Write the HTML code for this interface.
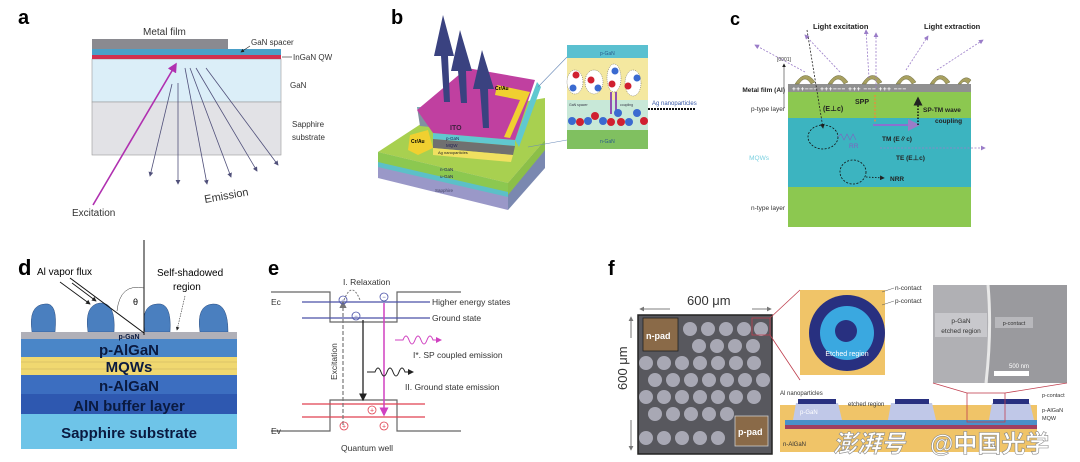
<!DOCTYPE html>
<html><head><meta charset="utf-8"><style>
html,body{margin:0;padding:0;background:#fff;}
svg{display:block;font-family:"Liberation Sans","Noto Sans CJK SC",sans-serif;}
</style></head><body>
<svg width="1080" height="462" viewBox="0 0 1080 462" xmlns="http://www.w3.org/2000/svg">
<defs>
<marker id="ab" markerWidth="6" markerHeight="6" refX="5" refY="3" orient="auto"><path d="M0,0 L6,3 L0,6 z" fill="#50507a"/></marker>
<marker id="am" markerWidth="6" markerHeight="6" refX="5" refY="3" orient="auto"><path d="M0,0 L6,3 L0,6 z" fill="#b030b0"/></marker>
<marker id="ak" markerWidth="6" markerHeight="6" refX="5" refY="3" orient="auto"><path d="M0,0 L6,3 L0,6 z" fill="#222"/></marker>
<marker id="ap" markerWidth="6" markerHeight="6" refX="5" refY="3" orient="auto"><path d="M0,0 L6,3 L0,6 z" fill="#9a7cc8"/></marker>
<marker id="ag" markerWidth="6" markerHeight="6" refX="5" refY="3" orient="auto"><path d="M0,0 L6,3 L0,6 z" fill="#777"/></marker>
<marker id="apk" markerWidth="6" markerHeight="6" refX="5" refY="3" orient="auto"><path d="M0,0 L6,3 L0,6 z" fill="#d040c0"/></marker>
</defs>

<!-- Panel a -->
<text x="18" y="24" font-size="20" font-weight="bold">a</text>
<text x="143" y="35" font-size="10" fill="#333">Metal film</text>
<rect x="92" y="59" width="189" height="43" fill="#dbeef8" stroke="#999" stroke-width="0.6"/>
<rect x="92" y="102" width="189" height="53" fill="#e2e2e6" stroke="#999" stroke-width="0.6"/>
<rect x="92" y="39" width="136" height="10" fill="#8a8a90"/>
<rect x="92" y="49" width="189" height="6" fill="#4a9fc8"/>
<rect x="92" y="55" width="189" height="4" fill="#d03050"/>
<text x="251" y="45" font-size="8" fill="#333">GaN spacer</text>
<line x1="250" y1="46" x2="241" y2="52" stroke="#222" stroke-width="0.6" marker-end="url(#ak)"/>
<text x="293" y="60" font-size="8" fill="#333">InGaN QW</text>
<line x1="292" y1="57" x2="282" y2="57" stroke="#222" stroke-width="0.6"/>
<text x="290" y="88" font-size="8" fill="#333">GaN</text>
<text x="292" y="127" font-size="8" fill="#333">Sapphire</text>
<text x="292" y="140" font-size="8" fill="#333">substrate</text>
<line x1="93" y1="205" x2="176" y2="64" stroke="#b030b0" stroke-width="1.6" marker-end="url(#am)"/>
<g stroke="#50507a" stroke-width="0.8">
<line x1="172" y1="84" x2="150" y2="176" marker-end="url(#ab)"/>
<line x1="178" y1="83" x2="178" y2="184" marker-end="url(#ab)"/>
<line x1="185" y1="68" x2="207" y2="184" marker-end="url(#ab)"/>
<line x1="190" y1="68" x2="231" y2="177" marker-end="url(#ab)"/>
<line x1="196" y1="68" x2="257" y2="171" marker-end="url(#ab)"/>
<line x1="206" y1="68" x2="278" y2="165" marker-end="url(#ab)"/>
</g>
<text x="205" y="203" font-size="11" fill="#333" transform="rotate(-10 205 203)">Emission</text>
<text x="72" y="216" font-size="10" fill="#333">Excitation</text>

<!-- Panel b -->
<text x="391" y="24" font-size="20" font-weight="bold">b</text>
<polygon points="378,152 508,183 508,210 378,178" fill="#9a98c8"/>
<polygon points="378,152 508,183 508,196 378,166" fill="#8cc850"/>
<polygon points="378,162 508,192 508,197 378,167" fill="#5cc0c8"/>
<polygon points="508,183 545,140 545,168 508,210" fill="#7a88b0"/>
<polygon points="508,183 545,140 545,150 508,195" fill="#8cbf48"/>
<polygon points="378,152 430,118 545,98 545,140 508,183" fill="#a8d050"/>
<polygon points="433,133 515,140 515,146 433,139" fill="#60c8d0"/>
<polygon points="433,139 515,146 513,155 433,148" fill="#707070"/>
<polygon points="433,148 513,155 511,162 433,155" fill="#f0e060"/>
<polygon points="515,140 537,82 541,87 519,147" fill="#60c8d0"/>
<polygon points="417,107 438,108 440,128 420,126" fill="#8090a0"/>
<path d="M417,107 Q432,112 433,128" fill="#60c8d0"/>
<polygon points="417,110 467,68 535,80 515,140 433,133" fill="#c040a0"/>
<polygon points="497,85 530,92 510,138 504,137 520,100 495,95" fill="#f0d030"/>
<polygon points="410,135 428,130 433,148 418,155 408,150" fill="#f0d030"/>
<text x="495" y="90" font-size="5" font-weight="bold">Cr/Au</text>
<text x="411" y="143" font-size="5" font-weight="bold">Cr/Au</text>
<text x="450" y="130" font-size="7" font-weight="bold" fill="#402040">ITO</text>
<text x="446" y="140" font-size="4.5" fill="#225">p-GaN</text>
<text x="446" y="147" font-size="4.5" fill="#225">MQW</text>
<text x="438" y="154" font-size="4" fill="#222">Ag nanoparticles</text>
<text x="440" y="171" font-size="4.5" fill="#225">n-GaN</text>
<text x="440" y="178" font-size="4.5" fill="#225">u-GaN</text>
<text x="435" y="192" font-size="4.5" fill="#446">Sapphire</text>
<g fill="#3a4280">
<polygon points="443,15 434,56 441,56 444,102 450,102 448,56 454,56"/>
<polygon points="460,30 451,71 458,71 461,103 467,103 466,71 472,71"/>
<polygon points="482,50 473,89 480,89 483,128 489,128 488,89 494,89"/>
</g>
<line x1="538" y1="87" x2="567" y2="57" stroke="#6a8ab8" stroke-width="0.6"/>
<line x1="528" y1="147" x2="567" y2="140" stroke="#6a8ab8" stroke-width="0.6"/>
<rect x="567" y="45" width="81" height="104" fill="#f4e8a0"/>
<rect x="567" y="45" width="81" height="13" fill="#5ac0d0"/>
<rect x="567" y="100" width="81" height="30" fill="#c8e8d8"/>
<rect x="567" y="130" width="81" height="19" fill="#80c060"/>
<text x="600" y="55" font-size="5" fill="#2a5a8a">p-GaN</text>
<text x="600" y="143" font-size="5" fill="#2a5a8a">n-GaN</text>
<g stroke="#333" stroke-width="0.4" stroke-dasharray="1,1" fill="#fff">
<ellipse cx="575" cy="82" rx="8" ry="12"/><ellipse cx="594" cy="82" rx="9" ry="12"/><ellipse cx="614" cy="78" rx="7" ry="14"/><ellipse cx="633" cy="83" rx="8" ry="13"/>
</g>
<g fill="#d02030"><circle cx="576" cy="75" r="3.5"/><circle cx="591" cy="80" r="3.5"/><circle cx="612" cy="84" r="3.5"/><circle cx="628" cy="86" r="3.5"/></g>
<g fill="#3a6ad0"><circle cx="573" cy="88" r="3.5"/><circle cx="598" cy="88" r="3.5"/><circle cx="615" cy="71" r="3.5"/><circle cx="637" cy="78" r="3.5"/></g>
<rect x="610" y="92" width="2" height="22" fill="#9050b0"/><rect x="615" y="92" width="2" height="22" fill="#9050b0"/>
<g fill="#3a6ad0"><circle cx="572" cy="121" r="4"/><circle cx="588" cy="121" r="4"/><circle cx="603" cy="121" r="4"/><circle cx="618" cy="113" r="4"/><circle cx="637" cy="113" r="4"/><circle cx="629" cy="122" r="4"/></g>
<g fill="#d02030"><circle cx="580" cy="122" r="4"/><circle cx="595" cy="116" r="4"/><circle cx="611" cy="122" r="4"/><circle cx="621" cy="122" r="4"/><circle cx="644" cy="121" r="4"/></g>
<text x="569" y="106" font-size="3.5" fill="#334">GaN spacer</text>
<text x="620" y="106" font-size="3.5" fill="#334">coupling</text>
<text x="652" y="105" font-size="6" fill="#3a5aa8">Ag nanoparticles</text>
<line x1="648" y1="109" x2="695" y2="109" stroke="#111" stroke-width="2" stroke-dasharray="2,1"/>

<!-- Panel c -->
<text x="730" y="25" font-size="18" font-weight="bold">c</text>
<rect x="788" y="92" width="183" height="26" fill="#8cc850"/>
<rect x="788" y="118" width="183" height="69" fill="#3cb4c0"/>
<rect x="788" y="187" width="183" height="40" fill="#8cc850"/>
<rect x="788" y="84" width="183" height="8" fill="#909090"/>
<g fill="#a8a060" stroke="#6a6a40" stroke-width="0.5">
<path d="M795,84 Q805,68 815,82 L811,84 Q805,74 799,84 z"/>
<path d="M828,84 Q838,68 848,82 L844,84 Q838,74 832,84 z"/>
<path d="M862,84 Q872,68 882,82 L878,84 Q872,74 866,84 z"/>
<path d="M896,84 Q906,68 916,82 L912,84 Q906,74 900,84 z"/>
<path d="M930,84 Q940,68 950,82 L946,84 Q940,74 934,84 z"/>
<path d="M958,84 Q965,74 971,80 L968,84 Q964,79 961,84 z"/>
</g>
<text x="792" y="91" font-size="6.5" font-weight="bold" fill="#fff" letter-spacing="0.5">+++−−− +++−−− +++ −−− +++ −−−</text>
<text x="785" y="92" font-size="6.5" font-weight="bold" text-anchor="end" fill="#222">Metal film (Al)</text>
<text x="785" y="111" font-size="6.5" text-anchor="end" fill="#333">p-type layer</text>
<text x="769" y="160" font-size="6.5" text-anchor="end" fill="#7ad0e0">MQWs</text>
<text x="785" y="210" font-size="6.5" text-anchor="end" fill="#333">n-type layer</text>
<line x1="784" y1="108" x2="784" y2="64" stroke="#333" stroke-width="0.6" marker-end="url(#ak)"/>
<text x="777" y="61" font-size="5" fill="#333">[0001]</text>
<text x="813" y="29" font-size="7.5" font-weight="bold" fill="#222">Light excitation</text>
<text x="924" y="29" font-size="7.5" font-weight="bold" fill="#222">Light extraction</text>
<g stroke="#9a7cc8" stroke-width="0.8" stroke-dasharray="2,1.5" fill="none">
<line x1="805" y1="72" x2="755" y2="45" marker-end="url(#ap)"/>
<line x1="840" y1="72" x2="805" y2="35" marker-end="url(#ap)"/>
<line x1="869" y1="78" x2="866" y2="30" marker-end="url(#ap)"/>
<line x1="876" y1="88" x2="876" y2="33" marker-end="url(#ap)"/>
<line x1="906" y1="70" x2="928" y2="36" marker-end="url(#ap)"/>
<line x1="937" y1="70" x2="983" y2="40" marker-end="url(#ap)"/>
<line x1="880" y1="148" x2="985" y2="148" marker-end="url(#ap)"/>
</g>
<line x1="807" y1="30" x2="823" y2="128" stroke="#222" stroke-width="0.8" stroke-dasharray="2,1.5" marker-end="url(#ak)"/>
<line x1="875" y1="95" x2="875" y2="122" stroke="#e09040" stroke-width="1.5" stroke-dasharray="2,1.5"/>
<line x1="873" y1="125" x2="918" y2="125" stroke="#8a70d0" stroke-width="2" marker-end="url(#ap)"/>
<line x1="918" y1="125" x2="918" y2="98" stroke="#111" stroke-width="1.5" stroke-dasharray="1.5,1.5" marker-end="url(#ak)"/>
<text x="823" y="111" font-size="7" font-weight="bold" fill="#222">(E⊥c)</text>
<text x="855" y="104" font-size="7" font-weight="bold" fill="#222">SPP</text>
<text x="923" y="112" font-size="6.5" font-weight="bold" fill="#222">SP-TM wave</text>
<text x="935" y="123" font-size="6.5" font-weight="bold" fill="#222">coupling</text>
<text x="882" y="141" font-size="6.5" font-weight="bold" fill="#222">TM (E∥c)</text>
<text x="896" y="160" font-size="6.5" font-weight="bold" fill="#222">TE (E⊥c)</text>
<text x="849" y="148" font-size="6.5" fill="#8060c0">RR</text>
<text x="890" y="181" font-size="6.5" font-weight="bold" fill="#222">NRR</text>
<g fill="none" stroke="#111" stroke-width="0.8" stroke-dasharray="2,1.5">
<ellipse cx="823" cy="137" rx="15" ry="12"/><ellipse cx="853" cy="172" rx="13" ry="12"/>
</g>
<path d="M838,137 l3,-3 l3,6 l3,-6 l3,6 l3,-6 l3,6" fill="none" stroke="#8060c0" stroke-width="0.6"/>
<line x1="866" y1="177" x2="884" y2="178" stroke="#111" stroke-width="0.8" stroke-dasharray="1.5,1.5" marker-end="url(#ak)"/>

<!-- Panel d -->
<text x="18" y="275" font-size="22" font-weight="bold">d</text>
<g fill="#4a7fbf" stroke="#2d4e80" stroke-width="0.5">
<path d="M32,332 Q28,305 45,304 Q58,302 55,332 z"/>
<path d="M88,332 Q84,305 100,303 Q116,302 114,332 z"/>
<path d="M145,332 Q140,305 157,304 Q172,302 170,332 z"/>
<path d="M200,332 Q196,305 213,304 Q228,303 228,332 z"/>
</g>
<rect x="21" y="332" width="216" height="7" fill="#b0b0b8"/>
<rect x="21" y="339" width="216" height="18" fill="#4a86c8"/>
<rect x="21" y="357" width="216" height="18" fill="#f0d870"/>
<line x1="21" y1="362" x2="237" y2="362" stroke="#c8b060" stroke-width="0.5"/>
<line x1="21" y1="369" x2="237" y2="369" stroke="#c8b060" stroke-width="0.5"/>
<rect x="21" y="375" width="216" height="19" fill="#3c6ec0"/>
<rect x="21" y="394" width="216" height="20" fill="#2e58b0"/>
<rect x="21" y="414" width="216" height="35" fill="#6ec4e8"/>
<g font-weight="bold" fill="#0a1a40" text-anchor="middle">
<text x="129" y="339" font-size="7">p-GaN</text>
<text x="129" y="355" font-size="15">p-AlGaN</text>
<text x="129" y="372" font-size="15">MQWs</text>
<text x="129" y="391" font-size="15">n-AlGaN</text>
<text x="129" y="411" font-size="15">AlN buffer layer</text>
<text x="129" y="438" font-size="15">Sapphire substrate</text>
</g>
<line x1="144" y1="240" x2="144" y2="335" stroke="#111" stroke-width="1"/>
<line x1="70" y1="278" x2="144" y2="333" stroke="#111" stroke-width="1"/>
<line x1="72" y1="283" x2="96" y2="301" stroke="#111" stroke-width="0.8" marker-end="url(#ak)"/>
<line x1="60" y1="282" x2="90" y2="304" stroke="#111" stroke-width="0.8" marker-end="url(#ak)"/>
<path d="M117,311 Q120,283 144,288" fill="none" stroke="#333" stroke-width="0.5"/>
<text x="133" y="305" font-size="9">θ</text>
<text x="37" y="275" font-size="10">Al vapor flux</text>
<text x="157" y="276" font-size="10">Self-shadowed</text>
<text x="173" y="290" font-size="10">region</text>
<line x1="185" y1="296" x2="177" y2="330" stroke="#333" stroke-width="0.6" stroke-dasharray="1.5,1" marker-end="url(#ak)"/>

<!-- Panel e -->
<text x="268" y="275" font-size="20" font-weight="bold">e</text>
<path d="M271,292 H330 V322 H397 V292 H461" fill="none" stroke="#666" stroke-width="1.2"/>
<path d="M271,431 H330 V400 H397 V431 H461" fill="none" stroke="#666" stroke-width="1.2"/>
<line x1="302" y1="302" x2="430" y2="302" stroke="#4a52a8" stroke-width="1.2"/>
<line x1="302" y1="318" x2="430" y2="318" stroke="#4a52a8" stroke-width="1.2"/>
<line x1="302" y1="404" x2="425" y2="404" stroke="#e04050" stroke-width="1.2"/>
<line x1="302" y1="417" x2="425" y2="417" stroke="#e04050" stroke-width="1.2"/>
<text x="271" y="305" font-size="8.5" fill="#333">Ec</text>
<text x="271" y="434" font-size="8.5" fill="#333">Ev</text>
<text x="432" y="305" font-size="8.5" fill="#333">Higher energy states</text>
<text x="432" y="321" font-size="8.5" fill="#333">Ground state</text>
<text x="343" y="285" font-size="8.5" fill="#333">I. Relaxation</text>
<text x="413" y="358" font-size="8.5" fill="#333">I*. SP coupled emission</text>
<text x="405" y="390" font-size="8.5" fill="#333">II. Ground state emission</text>
<text x="341" y="451" font-size="8.5" fill="#333">Quantum well</text>
<text x="337" y="380" font-size="8.5" fill="#333" transform="rotate(-90 337 380)">Excitation</text>
<line x1="343" y1="425" x2="343" y2="302" stroke="#777" stroke-width="1.2" stroke-dasharray="4,2" marker-end="url(#ag)"/>
<line x1="363" y1="320" x2="363" y2="400" stroke="#222" stroke-width="1.3" marker-end="url(#ak)"/>
<line x1="384" y1="303" x2="384" y2="415" stroke="#d040c0" stroke-width="1.5" marker-end="url(#apk)"/>
<path d="M344,300 Q352,280 360,300" fill="none" stroke="#777" stroke-width="1" stroke-dasharray="2,1.5"/>
<g fill="none" stroke="#4a52a8" stroke-width="0.8"><circle cx="343" cy="300" r="4"/><circle cx="356" cy="316" r="4"/><circle cx="384" cy="297" r="4"/></g>
<g font-size="6" fill="#4a52a8" text-anchor="middle"><text x="343" y="302">−</text><text x="356" y="318">−</text><text x="384" y="299">−</text></g>
<g fill="none" stroke="#e04050" stroke-width="0.8"><circle cx="372" cy="410" r="4"/><circle cx="344" cy="426" r="4"/><circle cx="384" cy="426" r="4"/></g>
<g font-size="7" fill="#e04050" text-anchor="middle"><text x="372" y="412.5">+</text><text x="344" y="428.5">+</text><text x="384" y="428.5">+</text></g>
<path d="M395,340 h8 q3,-8 6,0 q3,8 6,0 q3,-8 6,0 q3,8 6,0 q3,-8 6,0 h8" fill="none" stroke="#d040c0" stroke-width="1" marker-end="url(#apk)"/>
<path d="M367,372 h8 q3,-8 6,0 q3,8 6,0 q3,-8 6,0 q3,8 6,0 q3,-8 6,0 h8" fill="none" stroke="#222" stroke-width="1" marker-end="url(#ak)"/>

<!-- Panel f -->
<text x="608" y="275" font-size="20" font-weight="bold">f</text>
<text x="687" y="305" font-size="13" fill="#333">600 μm</text>
<line x1="670" y1="309" x2="640" y2="309" stroke="#555" stroke-width="0.8" marker-end="url(#ag)"/>
<line x1="752" y1="309" x2="771" y2="309" stroke="#555" stroke-width="0.8" marker-end="url(#ag)"/>
<text x="627" y="390" font-size="13" fill="#333" transform="rotate(-90 627 390)">600 μm</text>
<line x1="631" y1="338" x2="631" y2="317" stroke="#555" stroke-width="0.8" marker-end="url(#ag)"/>
<line x1="631" y1="420" x2="631" y2="450" stroke="#555" stroke-width="0.8" marker-end="url(#ag)"/>
<rect x="638" y="315" width="134" height="139" fill="#58585e" stroke="#222" stroke-width="1.5"/>
<g fill="#a8a8b4">
<circle cx="690" cy="329" r="7"/><circle cx="708" cy="329" r="7"/><circle cx="726" cy="329" r="7"/><circle cx="744" cy="329" r="7"/><circle cx="761" cy="329" r="7"/>
<circle cx="699" cy="346" r="7"/><circle cx="717" cy="346" r="7"/><circle cx="735" cy="346" r="7"/><circle cx="753" cy="346" r="7"/>
<circle cx="646" cy="363" r="7"/><circle cx="664" cy="363" r="7"/><circle cx="682" cy="363" r="7"/><circle cx="700" cy="363" r="7"/><circle cx="718" cy="363" r="7"/><circle cx="736" cy="363" r="7"/><circle cx="754" cy="363" r="7"/>
<circle cx="655" cy="380" r="7"/><circle cx="673" cy="380" r="7"/><circle cx="691" cy="380" r="7"/><circle cx="709" cy="380" r="7"/><circle cx="727" cy="380" r="7"/><circle cx="745" cy="380" r="7"/><circle cx="763" cy="380" r="7"/>
<circle cx="646" cy="397" r="7"/><circle cx="664" cy="397" r="7"/><circle cx="682" cy="397" r="7"/><circle cx="700" cy="397" r="7"/><circle cx="718" cy="397" r="7"/><circle cx="736" cy="397" r="7"/><circle cx="754" cy="397" r="7"/>
<circle cx="655" cy="414" r="7"/><circle cx="673" cy="414" r="7"/><circle cx="691" cy="414" r="7"/><circle cx="709" cy="414" r="7"/><circle cx="727" cy="414" r="7"/>
<circle cx="646" cy="438" r="7"/><circle cx="664" cy="438" r="7"/><circle cx="682" cy="438" r="7"/><circle cx="700" cy="438" r="7"/><circle cx="718" cy="438" r="7"/>
</g>
<rect x="643" y="318" width="35" height="33" fill="#8a6a48" stroke="#222" stroke-width="0.8"/>
<text x="646" y="339" font-size="9" font-weight="bold" fill="#fff">n-pad</text>
<rect x="735" y="416" width="33" height="30" fill="#8a6a48" stroke="#ccc" stroke-width="0.8"/>
<text x="738" y="435" font-size="9" font-weight="bold" fill="#fff">p-pad</text>
<rect x="752" y="318" width="18" height="17" fill="none" stroke="#c04050" stroke-width="0.8"/>
<line x1="770" y1="318" x2="800" y2="290" stroke="#c04050" stroke-width="0.8"/>
<line x1="770" y1="335" x2="800" y2="380" stroke="#c04050" stroke-width="0.8"/>
<rect x="800" y="290" width="85" height="85" fill="#f0c468"/>
<circle cx="847" cy="333" r="38" fill="#283080"/>
<circle cx="847" cy="333" r="27" fill="#3aa8e0"/>
<circle cx="846" cy="331" r="11" fill="#283080"/>
<text x="847" y="356" font-size="7" fill="#fff" text-anchor="middle">Etched region</text>
<text x="895" y="290" font-size="6.5" fill="#333">n-contact</text>
<text x="895" y="303" font-size="6.5" fill="#333">p-contact</text>
<line x1="894" y1="288" x2="882" y2="292" stroke="#555" stroke-width="0.5"/>
<line x1="894" y1="301" x2="882" y2="305" stroke="#555" stroke-width="0.5"/>
<rect x="933" y="285" width="134" height="98" fill="#9a9a9e"/>
<rect x="933" y="285" width="55" height="98" fill="#b0b0b4"/>
<path d="M988,285 Q992,330 986,383" stroke="#e8e8e8" stroke-width="3" fill="none"/>
<rect x="935" y="313" width="52" height="24" fill="#c8c8cc"/>
<text x="961" y="323" font-size="6.5" fill="#333" text-anchor="middle">p-GaN</text>
<text x="961" y="333" font-size="6.5" fill="#333" text-anchor="middle">etched region</text>
<rect x="995" y="317" width="38" height="11" fill="#b8b8bc"/>
<text x="1014" y="325" font-size="5.5" fill="#333" text-anchor="middle">p-contact</text>
<text x="1009" y="368" font-size="6" fill="#fff">500 nm</text>
<rect x="994" y="371" width="35" height="5" fill="#fff"/>
<polygon points="780,405 1037,405 1037,452 780,452" fill="#f0c468"/>
<rect x="785" y="420" width="252" height="5" fill="#4a90c8"/>
<rect x="785" y="425" width="252" height="4" fill="#a04060"/>
<polygon points="796,403 838,403 842,420 793,420" fill="#c0c8e8"/>
<rect x="798" y="399" width="38" height="5" fill="#283080"/>
<polygon points="891,403 932,403 936,420 888,420" fill="#c0c8e8"/>
<rect x="895" y="399" width="34" height="5" fill="#283080"/>
<polygon points="992,403 1030,403 1034,420 989,420" fill="#c0c8e8"/>
<rect x="993" y="399" width="36" height="5" fill="#283080"/>
<rect x="967" y="393" width="38" height="29" fill="none" stroke="#c04050" stroke-width="0.8"/>
<line x1="967" y1="393" x2="933" y2="383" stroke="#c04050" stroke-width="0.8"/>
<line x1="1005" y1="393" x2="1067" y2="383" stroke="#c04050" stroke-width="0.8"/>
<text x="780" y="395" font-size="6" fill="#333">Al nanoparticles</text>
<text x="848" y="406" font-size="6" fill="#333">etched region</text>
<text x="800" y="414" font-size="6" fill="#fff">p-GaN</text>
<text x="783" y="446" font-size="6" fill="#333">n-AlGaN</text>
<text x="1042" y="397" font-size="5.5" fill="#333">p-contact</text>
<text x="1042" y="412" font-size="5.5" fill="#333">p-AlGaN</text>
<text x="1042" y="420" font-size="5.5" fill="#333">MQW</text>
<g font-size="24" font-weight="bold" fill="#fff" stroke="#888" stroke-width="0.6">
<text x="833" y="452" font-style="italic">澎湃号</text>
<text x="930" y="452">@中国光学</text>
</g>
</svg>
</body></html>
